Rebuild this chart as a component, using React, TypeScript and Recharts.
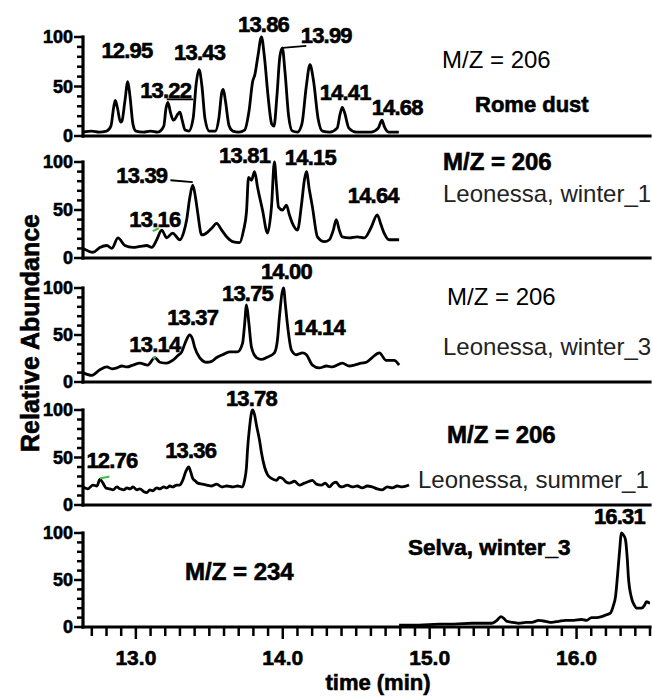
import { LineChart, Line, XAxis, YAxis, ReferenceDot, ReferenceLine } from "recharts";

const W = 652;
const H = 697;
const FONT = "'Liberation Sans', Arial, Helvetica, sans-serif";

// time (min), relative abundance
const ROME_DUST: [number, number][] = [
  [12.64, 4], [12.7, 5], [12.75, 4], [12.8, 5], [12.83, 10], [12.85, 30], [12.86, 36], [12.875, 28],
  [12.895, 14], [12.905, 15], [12.925, 35], [12.945, 55], [12.96, 40], [12.98, 12], [13.0, 5], [13.05, 4],
  [13.1, 5], [13.15, 4], [13.19, 10], [13.205, 28], [13.218, 34], [13.235, 24], [13.255, 16], [13.265, 17],
  [13.285, 22], [13.3, 24], [13.315, 16], [13.335, 6], [13.36, 5], [13.39, 18], [13.41, 52], [13.43, 67],
  [13.45, 50], [13.47, 18], [13.5, 5], [13.54, 5], [13.565, 18], [13.585, 44], [13.595, 47], [13.61, 35],
  [13.635, 10], [13.66, 5], [13.7, 4], [13.74, 6], [13.77, 25], [13.795, 55], [13.81, 62], [13.83, 80],
  [13.855, 100], [13.875, 80], [13.9, 40], [13.925, 12], [13.94, 10], [13.96, 40], [13.98, 80], [13.997, 89],
  [14.015, 65], [14.04, 20], [14.065, 5], [14.1, 4], [14.13, 12], [14.16, 50], [14.185, 72], [14.21, 55],
  [14.24, 18], [14.27, 5], [14.32, 4], [14.37, 8], [14.39, 22], [14.405, 29], [14.42, 24], [14.45, 8],
  [14.5, 4], [14.6, 4], [14.65, 8], [14.675, 16], [14.69, 10], [14.72, 4], [14.79, 4],
];

const LEONESSA_W1: [number, number][] = [
  [12.64, 10], [12.708, 6], [12.755, 11], [12.803, 13], [12.837, 10], [12.878, 21], [12.925, 13], [12.98, 11],
  [13.027, 12], [13.074, 13], [13.108, 11], [13.142, 19], [13.176, 29], [13.21, 21], [13.25, 26], [13.299, 19],
  [13.326, 27], [13.346, 40], [13.366, 62], [13.387, 76], [13.407, 62], [13.421, 47], [13.448, 24], [13.489, 27],
  [13.516, 31], [13.55, 36], [13.584, 29], [13.624, 21], [13.658, 17], [13.706, 16], [13.733, 29], [13.753, 48],
  [13.767, 84], [13.787, 81], [13.808, 90], [13.828, 74], [13.862, 50], [13.896, 26], [13.923, 53], [13.943, 100],
  [13.957, 76], [13.971, 53], [13.998, 50], [14.025, 55], [14.045, 45], [14.066, 36], [14.1, 29], [14.127, 55],
  [14.147, 81], [14.161, 90], [14.181, 71], [14.202, 53], [14.236, 22], [14.283, 17], [14.317, 19], [14.344, 29],
  [14.364, 40], [14.385, 29], [14.405, 22], [14.453, 21], [14.507, 22], [14.555, 21], [14.602, 32], [14.643, 45],
  [14.67, 34], [14.69, 26], [14.724, 19], [14.792, 19],
];

const LEONESSA_W3: [number, number][] = [
  [12.64, 10], [12.701, 7], [12.755, 13], [12.803, 16], [12.837, 14], [12.871, 15], [12.905, 17], [12.939, 16],
  [12.98, 18], [13.027, 20], [13.081, 18], [13.129, 26], [13.163, 21], [13.21, 20], [13.25, 23], [13.285, 28],
  [13.312, 32], [13.339, 43], [13.366, 50], [13.387, 45], [13.4, 37], [13.434, 26], [13.482, 21], [13.516, 22],
  [13.55, 26], [13.59, 29], [13.638, 32], [13.692, 32], [13.726, 41], [13.74, 61], [13.753, 82], [13.767, 66],
  [13.787, 37], [13.821, 26], [13.855, 24], [13.889, 26], [13.943, 31], [13.964, 45], [13.977, 69], [14.005, 100],
  [14.018, 82], [14.032, 61], [14.059, 34], [14.093, 29], [14.134, 31], [14.161, 29], [14.202, 18], [14.249, 15],
  [14.297, 17], [14.337, 16], [14.405, 20], [14.453, 17], [14.487, 18], [14.535, 20], [14.568, 21], [14.609, 26],
  [14.657, 31], [14.704, 23], [14.758, 23], [14.792, 18],
];

const LEONESSA_S1: [number, number][] = [
  [12.64, 19], [12.674, 17], [12.708, 21], [12.735, 20], [12.755, 27], [12.776, 23], [12.796, 18], [12.823, 17],
  [12.844, 16], [12.871, 19], [12.891, 17], [12.918, 16], [12.939, 18], [12.96, 17], [12.98, 19], [13.007, 16],
  [13.027, 17], [13.054, 14], [13.074, 13], [13.095, 16], [13.115, 15], [13.142, 18], [13.163, 17], [13.19, 19],
  [13.21, 18], [13.231, 20], [13.25, 19], [13.278, 21], [13.299, 21], [13.319, 26], [13.339, 35], [13.36, 40],
  [13.373, 35], [13.387, 28], [13.407, 25], [13.421, 23], [13.455, 22], [13.482, 21], [13.516, 20], [13.55, 22],
  [13.584, 19], [13.618, 20], [13.658, 19], [13.692, 20], [13.726, 19], [13.74, 26], [13.753, 40], [13.76, 58],
  [13.774, 82], [13.794, 100], [13.808, 95], [13.821, 84], [13.842, 68], [13.855, 55], [13.876, 40], [13.896, 32],
  [13.923, 28], [13.957, 26], [13.977, 29], [13.998, 28], [14.025, 24], [14.045, 23], [14.079, 25], [14.113, 21],
  [14.147, 23], [14.181, 25], [14.202, 26], [14.229, 22], [14.263, 21], [14.29, 23], [14.317, 19], [14.344, 23],
  [14.364, 24], [14.385, 20], [14.405, 19], [14.439, 21], [14.473, 19], [14.507, 20], [14.541, 18], [14.575, 20],
  [14.609, 19], [14.643, 17], [14.677, 16], [14.711, 19], [14.745, 18], [14.779, 20], [14.813, 19], [14.86, 21],
];

const SELVA_W3: [number, number][] = [
  [14.792, 2], [14.928, 2], [15.064, 3], [15.166, 3], [15.288, 4], [15.37, 4], [15.424, 4], [15.458, 7],
  [15.485, 11], [15.506, 9], [15.526, 6], [15.567, 5], [15.607, 4], [15.655, 5], [15.695, 5], [15.743, 7],
  [15.79, 6], [15.831, 5], [15.878, 6], [15.926, 7], [15.98, 7], [16.034, 8], [16.068, 7], [16.102, 10],
  [16.136, 10], [16.17, 11], [16.204, 13], [16.231, 15], [16.251, 23], [16.265, 32], [16.279, 55], [16.292, 79],
  [16.306, 100], [16.319, 98], [16.333, 93], [16.346, 71], [16.353, 53], [16.374, 31], [16.394, 23], [16.408, 20],
  [16.442, 20], [16.462, 23], [16.476, 27], [16.49, 26], [16.5, 25],
];

// peak labels, anchored in data coordinates (centre of text, baseline)
type Peak = { t: number; v: number; text: string };
const ROME_PEAKS: Peak[] = [
  { t: 12.939, v: 79, text: "12.95" },
  { t: 13.203, v: 38, text: "13.22" },
  { t: 13.434, v: 77, text: "13.43" },
  { t: 13.869, v: 105, text: "13.86" },
  { t: 14.296, v: 94, text: "13.99" },
  { t: 14.425, v: 36, text: "14.41" },
  { t: 14.779, v: 21, text: "14.68" },
];
const W1_PEAKS: Peak[] = [
  { t: 13.04, v: 78, text: "13.39" },
  { t: 13.129, v: 32, text: "13.16" },
  { t: 13.74, v: 99, text: "13.81" },
  { t: 14.188, v: 97, text: "14.15" },
  { t: 14.616, v: 57, text: "14.64" },
];
const W3_PEAKS: Peak[] = [
  { t: 13.387, v: 61, text: "13.37" },
  { t: 13.129, v: 32, text: "13.14" },
  { t: 13.76, v: 86, text: "13.75" },
  { t: 14.025, v: 110, text: "14.00" },
  { t: 14.249, v: 50, text: "14.14" },
];
const S1_PEAKS: Peak[] = [
  { t: 12.837, v: 39, text: "12.76" },
  { t: 13.373, v: 49, text: "13.36" },
  { t: 13.787, v: 104, text: "13.78" },
];
const SELVA_PEAKS: Peak[] = [{ t: 16.292, v: 110, text: "16.31" }];

// leader lines and small green marks: [t1, v1, t2, v2]
type Seg = [number, number, number, number];
const ROME_LEADERS: Seg[] = [[13.997, 89, 14.16, 91], [13.21, 37, 13.39, 37]];
const W1_LEADERS: Seg[] = [[13.235, 81, 13.387, 79]];
const W1_MARKS: Seg[] = [[13.115, 28, 13.155, 31]];
const W3_MARKS: Seg[] = [[13.115, 25, 13.135, 27]];
const S1_MARKS: Seg[] = [[12.755, 28, 12.82, 30]];

const X_DOMAIN: [number, number] = [12.64, 16.5];
const X_TICKS = Array.from({ length: 39 }, (_, i) => Math.round((12.7 + i * 0.1) * 10) / 10);
const Y_TICKS = [0, 10, 20, 30, 40, 50, 60, 70, 80, 90, 100];

const PANELS = [
  { data: ROME_DUST, peaks: ROME_PEAKS, leaders: ROME_LEADERS, marks: [] as Seg[], top: 37, zero: 136 },
  { data: LEONESSA_W1, peaks: W1_PEAKS, leaders: W1_LEADERS, marks: W1_MARKS, top: 162, zero: 258 },
  { data: LEONESSA_W3, peaks: W3_PEAKS, leaders: [] as Seg[], marks: W3_MARKS, top: 288, zero: 382 },
  { data: LEONESSA_S1, peaks: S1_PEAKS, leaders: [] as Seg[], marks: S1_MARKS, top: 410, zero: 505 },
  { data: SELVA_W3, peaks: SELVA_PEAKS, leaders: [] as Seg[], marks: [] as Seg[], top: 533, zero: 627 },
];

const AXIS_LEFT = 83;
const Y_AXIS_W = 40;
const X_AXIS_H = 30;

// heavy look of the scanned labels
const HEAVY = { fontWeight: "bold" as const, stroke: "#000", strokeWidth: 0.6 };

const YTick = (props: any) => {
  const { x, y, payload } = props;
  const v = payload.value;
  const major = v % 50 === 0;
  return (
    <g>
      <line x1={x} x2={x - (major ? 9 : 6)} y1={y} y2={y} stroke="#000" strokeWidth={2.5} />
      {major && (
        <text x={x - 10} y={y} dy="0.36em" textAnchor="end" fontSize={18} fontFamily={FONT} fill="#000" {...HEAVY}>
          {v}
        </text>
      )}
    </g>
  );
};

const XTick = (props: any) => {
  const { x, y, payload } = props;
  const v = payload.value;
  const major = Math.abs(v - Math.round(v)) < 1e-6;
  return (
    <g>
      <line x1={x} x2={x} y1={y} y2={y + (major ? 12 : 9)} stroke="#000" strokeWidth={2.5} />
      {major && (
        <text x={x} y={y + 38} textAnchor="middle" fontSize={21} fontFamily={FONT} fill="#000" {...HEAVY}>
          {v.toFixed(1)}
        </text>
      )}
    </g>
  );
};

function Panel({ p, last }: { p: (typeof PANELS)[number]; last: boolean }) {
  const rows = p.data.map(([t, v]) => ({ t, v }));
  return (
    <div style={{ position: "absolute", left: 0, top: 0 }}>
      <LineChart
        width={W}
        height={H}
        data={rows}
        margin={{ top: p.top, bottom: H - p.zero - X_AXIS_H, left: AXIS_LEFT - Y_AXIS_W, right: 2 }}
      >
        <XAxis
          type="number"
          dataKey="t"
          domain={X_DOMAIN}
          allowDataOverflow
          ticks={X_TICKS}
          interval={0}
          height={X_AXIS_H}
          tickSize={0}
          tickMargin={0}
          tickLine={false}
          tick={last ? (tp: any) => <XTick {...tp} /> : false}
          axisLine={{ stroke: "#000", strokeWidth: 3.2, strokeLinecap: "square" }}
        />
        <YAxis
          type="number"
          domain={[0, 100]}
          ticks={Y_TICKS}
          interval={0}
          width={Y_AXIS_W}
          tickSize={0}
          tickMargin={0}
          tickLine={false}
          tick={(tp: any) => <YTick {...tp} />}
          axisLine={{ stroke: "#000", strokeWidth: 3.2, strokeLinecap: "square" }}
        />
        <Line type="monotone" dataKey="v" stroke="#000" strokeWidth={2.8} dot={false} isAnimationActive={false} />
        {p.leaders.map((s, i) => (
          <ReferenceLine
            key={"l" + i}
            segment={[{ x: s[0], y: s[1] }, { x: s[2], y: s[3] }]}
            stroke="#000"
            strokeWidth={1.8}
            ifOverflow="visible"
          />
        ))}
        {p.marks.map((s, i) => (
          <ReferenceLine
            key={"m" + i}
            segment={[{ x: s[0], y: s[1] }, { x: s[2], y: s[3] }]}
            stroke="#3cbf3c"
            strokeWidth={2}
            ifOverflow="visible"
          />
        ))}
        {p.peaks.map((pk) => (
          <ReferenceDot
            key={pk.text}
            x={pk.t}
            y={pk.v}
            r={0}
            fill="none"
            stroke="none"
            ifOverflow="visible"
            label={(lp: any) => (
              <text
                x={lp.viewBox.x + (lp.viewBox.width || 0) / 2}
                y={lp.viewBox.y + (lp.viewBox.height || 0) / 2}
                textAnchor="middle"
                fontSize={22}
                fontFamily={FONT}
                letterSpacing={-0.8}
                fill="#000"
                {...HEAVY}
              >
                {pk.text}
              </text>
            )}
          />
        ))}
      </LineChart>
    </div>
  );
}

export default function App() {
  return (
    <div style={{ position: "absolute", left: 0, top: 0, width: W, height: H, background: "#fff", fontFamily: FONT }}>
      {PANELS.map((p, i) => (
        <Panel key={i} p={p} last={i === PANELS.length - 1} />
      ))}
      <svg width={W} height={H} style={{ position: "absolute", left: 0, top: 0, pointerEvents: "none" }}>
        <g fontFamily={FONT} fill="#000">
          <text x={442} y={68} fontSize={24}>M/Z = 206</text>
          <text x={475} y={112} fontSize={22} {...HEAVY}>Rome dust</text>
          <text x={443} y={170} fontSize={24} {...HEAVY}>M/Z = 206</text>
          <text x={443} y={202} fontSize={24} fill="#222">Leonessa, winter_1</text>
          <text x={447} y={305} fontSize={24}>M/Z = 206</text>
          <text x={443} y={355} fontSize={24} fill="#222">Leonessa, winter_3</text>
          <text x={447} y={443} fontSize={24} {...HEAVY}>M/Z = 206</text>
          <text x={418} y={488} fontSize={24} fill="#222">Leonessa, summer_1</text>
          <text x={185} y={580} fontSize={24} {...HEAVY}>M/Z = 234</text>
          <text x={408} y={555} fontSize={22.5} {...HEAVY}>Selva, winter_3</text>
          <text x={378} y={690} fontSize={22} textAnchor="middle" {...HEAVY}>time (min)</text>
          <text x={39} y={333} fontSize={25} textAnchor="middle" transform="rotate(-90 39 333)" {...HEAVY}>
            Relative Abundance
          </text>
        </g>
      </svg>
    </div>
  );
}
